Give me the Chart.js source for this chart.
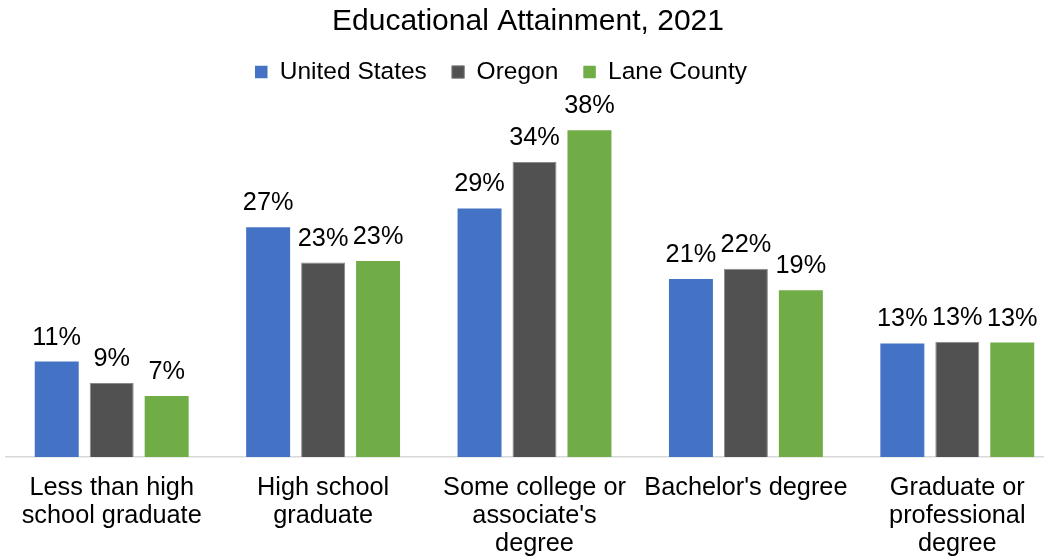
<!DOCTYPE html>
<html>
<head>
<meta charset="utf-8">
<title>Educational Attainment, 2021</title>
<script src="https://cdn.jsdelivr.net/npm/chart.js@4.4.0/dist/chart.umd.min.js"></script>
<style>
  html, body { margin: 0; padding: 0; overflow: hidden; background: #fff; }
  #wrap { position: absolute; left: 0; top: 0; width: 1063px; height: 575px; }
</style>
</head>
<body>
<div id="wrap"><canvas id="myChart"></canvas></div>
<script>
'use strict';

const categories = [
  ['Less than high', 'school graduate'],
  ['High school', 'graduate'],
  ['Some college or', 'associate\'s', 'degree'],
  ['Bachelor\'s degree'],
  ['Graduate or', 'professional', 'degree'],
];

const seriesNames = ['United States', 'Oregon', 'Lane County'];

const unitedStates = [11.1, 26.7, 28.9, 20.7, 13.2];
const oregon = [8.6, 22.6, 34.3, 21.9, 13.4];
const laneCounty = [7.1, 22.8, 38.0, 19.4, 13.3];

const colors = ['#4472C4', '#515151', '#70AD47'];

const ctx = document.getElementById('myChart');
const fontFamily = '"Liberation Sans", Arial, sans-serif';

Chart.defaults.font.family = fontFamily;
Chart.defaults.color = '#000';

// draws the % value above every bar
const barLabels = {
  id: 'barLabels',
  afterDatasetsDraw(chart) {
    const c = chart.ctx;
    c.save();
    c.font = '25.3px ' + fontFamily;
    c.fillStyle = '#000';
    c.textAlign = 'center';
    c.textBaseline = 'alphabetic';
    chart.data.datasets.forEach(function (ds, i) {
      chart.getDatasetMeta(i).data.forEach(function (bar, j) {
        c.fillText(Math.round(ds.data[j]) + '%', bar.x, bar.y - 17);
      });
    });
    c.restore();
  }
};

// the original chart is cropped on the right, so pull title/legend back to centre
const nudge = {
  id: 'nudge',
  afterLayout(chart) {
    chart.legend.left -= 67;
    chart.titleBlock.left -= 13;
  }
};

new Chart(ctx, {
  type: 'bar',
  data: {
    labels: categories,
    datasets: [{
      label: seriesNames[0],
      data: unitedStates,
      backgroundColor: colors[0],
      borderWidth: 0,
    }, {
      label: seriesNames[1],
      data: oregon,
      backgroundColor: colors[1],
      borderColor: '#8a8a8a',
      borderWidth: 1,
    }, {
      label: seriesNames[2],
      data: laneCounty,
      backgroundColor: colors[2],
      borderWidth: 0,
    }]
  },
  options: {
    responsive: true,
    maintainAspectRatio: false,
    devicePixelRatio: 1,
    animation: false,
    layout: {
      padding: { left: 6, right: 0, top: 0, bottom: 0 }
    },
    datasets: {
      bar: {
        categoryPercentage: 0.78,
        barPercentage: 0.8,
      }
    },
    plugins: {
      title: {
        display: true,
        text: 'Educational Attainment, 2021',
        color: '#000',
        font: { size: 30, weight: 'normal', lineHeight: 1 },
        padding: { top: 6.3, bottom: -1.5 },
      },
      legend: {
        position: 'top',
        labels: {
          boxWidth: 12.5,
          boxHeight: 12.5,
          padding: 25,
          color: '#000',
          font: { size: 24.5 },
        }
      },
      tooltip: { enabled: false },
    },
    scales: {
      x: {
        grid: { display: false, drawTicks: false },
        border: { display: true, color: '#d9d9d9', width: 1.5 },
        ticks: {
          color: '#000',
          padding: 16.5,
          maxRotation: 0,
          autoSkip: false,
          font: { size: 25.3, lineHeight: 1.12 },
        }
      },
      y: {
        display: false,
        min: 0,
        max: 42.17,
      }
    }
  },
  plugins: [barLabels, nudge]
});
</script>
</body>
</html>
